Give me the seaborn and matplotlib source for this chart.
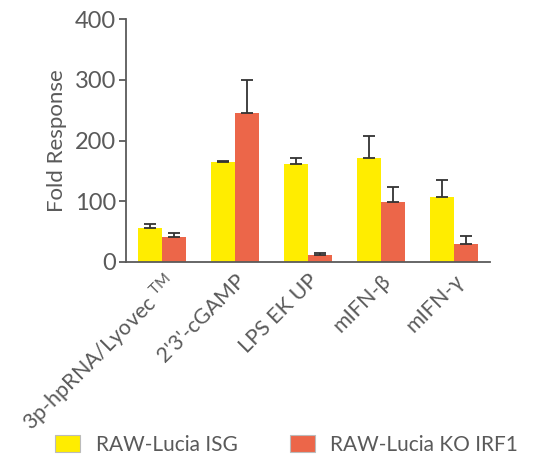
import matplotlib
matplotlib.use("Agg")
import matplotlib.pyplot as plt
import seaborn as sns
import pandas as pd
import numpy as np
from matplotlib.patches import Patch

categories = ["3p-hpRNA/Lyovec $^{\\mathrm{TM}}$", "2'3'-cGAMP", "LPS EK UP", "mIFN-β", "mIFN-γ"]
series = ["RAW-Lucia ISG", "RAW-Lucia KO IRF1"]
isg_vals = [56, 164, 162, 171, 107]
isg_err = [6, 1.5, 9, 37, 28]
ko_vals = [41, 246, 11, 98, 30]
ko_err = [6, 54, 3, 26, 13]
yticks = [0, 100, 200, 300, 400]

colors = ["#FFED00", "#EC6649"]
grey = "#5a5a5a"

sns.set_theme(style="ticks")
plt.rcParams['font.family'] = ['Lato', 'DejaVu Sans']
plt.rcParams['mathtext.fontset'] = 'custom'
plt.rcParams['mathtext.rm'] = 'Lato'

df = pd.DataFrame({
    "cat": categories * 2,
    "series": [series[0]] * 5 + [series[1]] * 5,
    "val": isg_vals + ko_vals,
})

fig = plt.figure(figsize=(5.51, 4.62), dpi=100)
ax = fig.add_axes([126/551, 1-262/462, 364/551, 243/462])
sns.barplot(data=df, x="cat", y="val", hue="series", palette=colors, ax=ax,
            width=0.66, gap=0, saturation=1, errorbar=None, legend=False)

for i, (vals, errs) in enumerate([(isg_vals, isg_err), (ko_vals, ko_err)]):
    cont = ax.containers[i]
    for bar, v, e in zip(cont, vals, errs):
        xc = bar.get_x() + bar.get_width() / 2
        ax.errorbar([xc], [v], yerr=[[0], [e]], fmt='none', ecolor="#333333",
                    elinewidth=1.3, capsize=4.5, capthick=1.3, zorder=3)

for bar in ax.patches:
    bar.set_edgecolor("none")

ax.set_xlim(-0.5, 4.5)
ax.set_ylim(0, 400)
ax.set_yticks(yticks)
ax.set_yticklabels([str(t) for t in yticks], fontsize=17, color=grey)
ax.set_xticks(range(5))
ax.set_xticklabels(categories, rotation=45, ha="right", rotation_mode="anchor",
                   fontsize=15.5, color=grey)
ax.tick_params(axis='x', length=0, pad=6)
ax.tick_params(axis='y', length=5, width=1.3, color=grey, pad=2)
ax.set_xlabel("")
ax.set_ylabel("Fold Response", fontsize=16, color=grey, labelpad=6)
for s in ["top", "right"]:
    ax.spines[s].set_visible(False)
for s in ["left", "bottom"]:
    ax.spines[s].set_color(grey)
    ax.spines[s].set_linewidth(1.3)

handles = [Patch(facecolor=c, edgecolor="#bbbbbb", linewidth=0.8) for c in colors]
fig.legend(handles, series, loc="lower center", bbox_to_anchor=(0.52, -0.025), ncol=2,
           frameon=False, handlelength=1.2, handleheight=0.85,
           columnspacing=2.5, handletextpad=0.75, labelcolor=grey,
           prop={'size': 15})

fig.savefig("out.png", dpi=100)
